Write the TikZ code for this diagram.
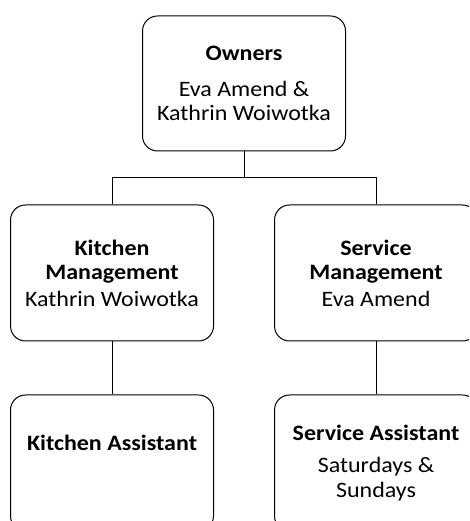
\documentclass[tikz,border=0pt]{standalone}
\usepackage{fontspec}
\setmainfont{Carlito}[FakeStretch=1.09]
\usetikzlibrary{positioning}

\tikzset{
	orgbox/.style={draw, line width=1pt, rounded corners=15pt, minimum width=203pt,
		minimum height=136pt, align=center, inner sep=0pt,
		font=\fontsize{22}{24.5}\selectfont},
	link/.style={line width=1pt}
}

\begin{document}
\begin{tikzpicture}[x=1pt, y=1pt]
	\useasboundingbox (0,0) rectangle (469,521);
	\clip (0,0) rectangle (469,521);
	% Inhaber oben
	\node[orgbox, minimum height=135pt] (owners) at (244,437.5)
		{\textbf{Owners}\\[11pt]Eva Amend \&\\Kathrin Woiwotka};
	% Leitung
	\node[orgbox] (kitchen) at (112,248)
		{\textbf{Kitchen}\\\textbf{Management}\\[2pt]Kathrin Woiwotka};
	\node[orgbox] (service) at (376,248)
		{\textbf{Service}\\\textbf{Management}\\[2pt]Eva Amend};
	% Aushilfen
	\node[orgbox] (kitchenAsst) at (112,58)
		{\textbf{Kitchen Assistant}\\[8pt]\strut};
	\node[orgbox] (serviceAsst) at (376,58)
		{\textbf{Service Assistant}\\[8pt]Saturdays \&\\Sundays};
	% Verbindungen
	\coordinate (fork) at (244,343);
	\draw[link] (owners.south) -- (fork);
	\draw[link] (fork) -| (kitchen.north);
	\draw[link] (fork) -| (service.north);
	\draw[link] (kitchen.south) -- (kitchenAsst.north);
	\draw[link] (service.south) -- (serviceAsst.north);
\end{tikzpicture}
\end{document}
